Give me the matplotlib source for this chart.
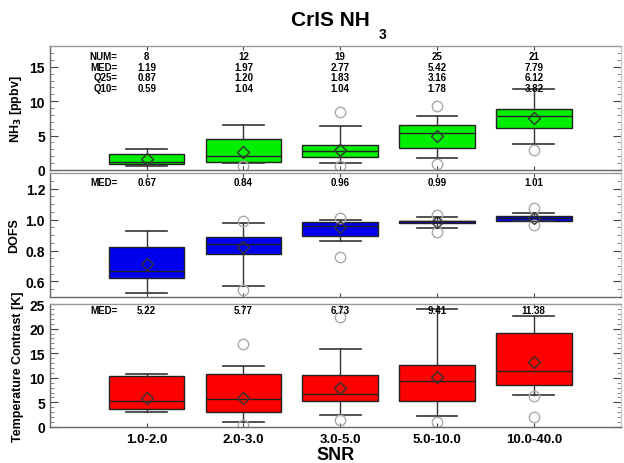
import numpy as np
import matplotlib
matplotlib.use("Agg")
import matplotlib.pyplot as plt
from matplotlib.ticker import MultipleLocator

plt.rcParams['font.family'] = ['Liberation Sans', 'DejaVu Sans']
plt.rcParams['font.weight'] = 'bold'

snr_bins = ["1.0-2.0", "2.0-3.0", "3.0-5.0", "5.0-10.0", "10.0-40.0"]

# NH3 [ppbv]
nh3_num = [8, 12, 19, 25, 21]
nh3_q10 = [0.59, 1.04, 1.04, 1.78, 3.82]
nh3_q25 = [0.87, 1.20, 1.83, 3.16, 6.12]
nh3_med = [1.19, 1.97, 2.77, 5.42, 7.79]
nh3_q75 = [2.37, 4.5, 3.64, 6.6, 8.88]
nh3_q90 = [3.04, 6.6, 6.35, 7.9, 11.7]
nh3_mean = [1.6, 2.6, 2.95, 4.9, 7.57]
nh3_out = [[], [0.6], [8.44, 0.6], [9.36, 0.9], [2.85]]

# DOFS
dofs_q10 = [0.524, 0.573, 0.86, 0.948, 0.993]
dofs_q25 = [0.625, 0.78, 0.897, 0.976, 0.993]
dofs_med = [0.67, 0.84, 0.96, 0.99, 1.01]
dofs_q75 = [0.823, 0.89, 0.987, 0.993, 1.025]
dofs_q90 = [0.927, 0.98, 0.995, 1.014, 1.044]
dofs_mean = [0.71, 0.82, 0.95, 0.987, 1.01]
dofs_out = [[], [0.99, 0.545], [1.01, 0.757], [1.03, 0.92], [1.076, 0.965]]

# Temperature contrast [K]
tc_q10 = [3.0, 0.95, 2.5, 2.3, 6.5]
tc_q25 = [3.66, 3.1, 5.35, 5.35, 8.5]
tc_med = [5.22, 5.77, 6.73, 9.41, 11.38]
tc_q75 = [10.3, 10.8, 10.6, 12.7, 19.1]
tc_q90 = [10.8, 12.5, 15.85, 24.0, 22.6]
tc_mean = [5.9, 5.96, 7.9, 10.1, 13.15]
tc_out = [[], [16.9, 0.5], [22.3, 1.4], [1.1], [6.4, 2.0]]


def make_stats(q10, q25, med, q75, q90, mean, out):
    stats = []
    for i in range(len(med)):
        stats.append(dict(whislo=q10[i], q1=q25[i], med=med[i], q3=q75[i],
                          whishi=q90[i], mean=mean[i], fliers=out[i]))
    return stats


def draw_panel(ax, stats, color, ylim, major, minor, ylabel):
    pos = np.arange(1, len(stats) + 1)
    ax.bxp(stats, positions=pos, widths=0.78, capwidths=0.42,
           patch_artist=True, showmeans=True,
           boxprops=dict(facecolor=color, edgecolor='#222222', linewidth=1.0),
           medianprops=dict(color='#222222', linewidth=1.0),
           whiskerprops=dict(color='#333333', linewidth=1.0),
           capprops=dict(color='#333333', linewidth=1.2),
           meanprops=dict(marker='D', markerfacecolor='none',
                          markeredgecolor='#333333', markersize=6.5),
           flierprops=dict(marker='o', markerfacecolor='none',
                           markeredgecolor='#aaaaaa', markersize=7.5))
    ax.set_xlim(0, 5.9)
    ax.set_ylim(*ylim)
    ax.yaxis.set_major_locator(MultipleLocator(major))
    ax.yaxis.set_minor_locator(MultipleLocator(minor))
    ax.tick_params(axis='y', which='major', direction='in', length=6,
                   right=True, labelsize=10, color='#444444')
    ax.tick_params(axis='y', which='minor', direction='in', length=3,
                   right=True, color='#777777')
    ax.tick_params(axis='x', direction='in', length=3, top=True,
                   labelbottom=False, color='#444444')
    ax.set_ylabel(ylabel, fontsize=9, fontweight='bold')
    for s in ax.spines.values():
        s.set_color('#666666')
        s.set_linewidth(1.0)
    ax.spines['right'].set_color('#cccccc')
    ax.spines['top'].set_color('#999999')


def stat_row(ax, yy, label, values):
    tr = ax.get_xaxis_transform()
    ax.text(0.70, yy, label, transform=tr, ha='right', va='center',
            fontsize=7, fontweight='bold')
    for i, v in enumerate(values):
        ax.text(i + 1, yy, v, transform=tr, ha='center', va='center',
                fontsize=7, fontweight='bold')


fig = plt.figure(figsize=(6.24, 4.64), dpi=100)
ax1 = fig.add_axes([0.080, 0.6315, 0.915, 0.267])
ax2 = fig.add_axes([0.080, 0.3578, 0.915, 0.267])
ax3 = fig.add_axes([0.080, 0.0776, 0.915, 0.265])

draw_panel(ax1, make_stats(nh3_q10, nh3_q25, nh3_med, nh3_q75, nh3_q90, nh3_mean, nh3_out),
           '#00ee00', (0, 18), 5, 1, 'NH$_3$ [ppbv]')
draw_panel(ax2, make_stats(dofs_q10, dofs_q25, dofs_med, dofs_q75, dofs_q90, dofs_mean, dofs_out),
           '#0000ee', (0.5, 1.3), 0.2, 0.05, 'DOFS')
draw_panel(ax3, make_stats(tc_q10, tc_q25, tc_med, tc_q75, tc_q90, tc_mean, tc_out),
           '#ff0000', (0, 25), 5, 1, 'Temperature Contrast [K]')

ax3.tick_params(axis='x', labelbottom=True, labelsize=9.5, pad=4)
ax3.set_xticks(np.arange(1, 6))
ax3.set_xticklabels(snr_bins, fontweight='bold')
ax3.set_xlabel('SNR', fontsize=13, fontweight='bold', labelpad=1)

# statistics text
stat_row(ax1, 0.919, "NUM=", [str(n) for n in nh3_num])
stat_row(ax1, 0.834, "MED=", ["%.2f" % v for v in nh3_med])
stat_row(ax1, 0.749, "Q25=", ["%.2f" % v for v in nh3_q25])
stat_row(ax1, 0.664, "Q10=", ["%.2f" % v for v in nh3_q10])
stat_row(ax2, 0.927, "MED=", ["%.2f" % v for v in dofs_med])
stat_row(ax3, 0.953, "MED=", ["%.2f" % v for v in tc_med])

fig.text(0.53, 0.955, "CrIS NH", ha='center', va='center', fontsize=15,
         fontweight='bold')
fig.text(0.613, 0.925, "3", ha='center', va='center', fontsize=10,
         fontweight='bold')

fig.savefig("out.png", dpi=100)
